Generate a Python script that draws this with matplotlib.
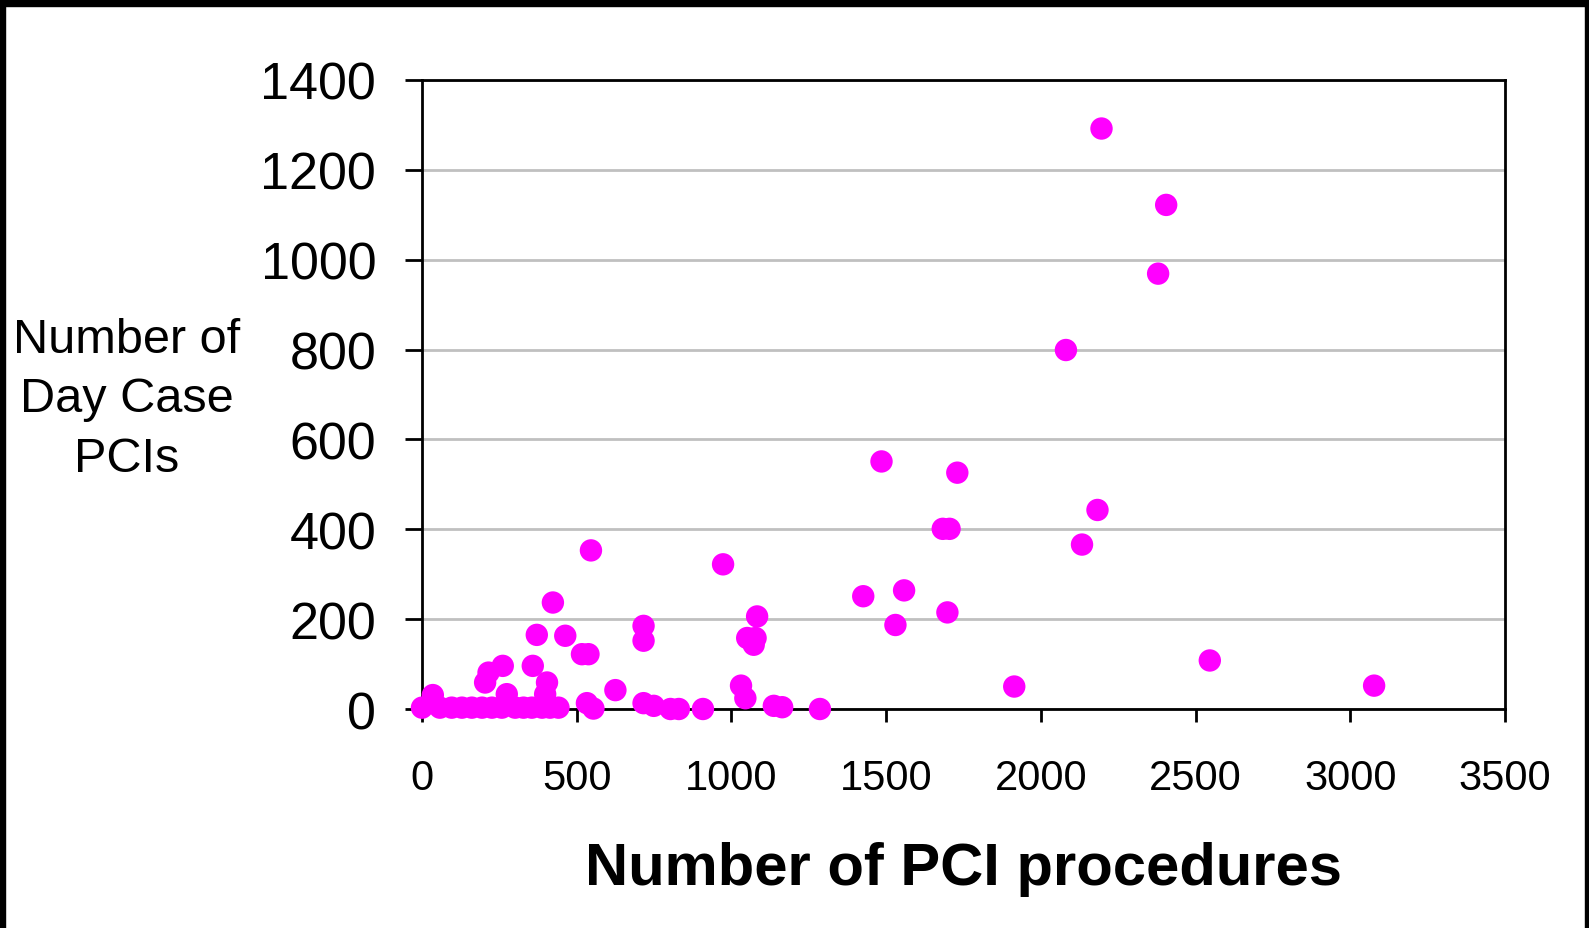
import matplotlib.pyplot as plt
from matplotlib.patches import Rectangle

plt.rcParams['font.family'] = ['Liberation Sans', 'DejaVu Sans']

# total PCI procedures per centre
pci_total = [2196, 2405, 2379, 2081, 1485, 1730, 2183, 2133, 2546, 3077,
             1426, 1530, 1558, 1698, 1683, 1705, 1914,
             973, 1083, 1051, 1078, 1072, 1031, 1045, 908, 1137, 1164, 1286,
             546, 423, 371, 463, 517, 538, 716, 716, 261, 215, 204, 358,
             404, 398, 274, 35, 625, 533, 554, 716, 749, 803, 830,
             0, 58, 96, 129, 161, 194, 226, 258, 301, 328, 355, 388, 414, 441]
# day case PCIs per centre
day_case = [1292, 1122, 969, 799, 551, 526, 443, 366, 108, 52,
            251, 187, 264, 215, 401, 401, 50,
            322, 206, 158, 158, 143, 52, 24, 0, 7, 4, 0,
            353, 237, 165, 163, 122, 122, 185, 152, 96, 81, 59, 96,
            59, 33, 33, 31, 42, 13, 1, 13, 7, 0, 0,
            3, 3, 3, 3, 3, 3, 3, 3, 3, 3, 3, 3, 3, 3]

x_ticks = [0, 500, 1000, 1500, 2000, 2500, 3000, 3500]
y_ticks = [0, 200, 400, 600, 800, 1000, 1200, 1400]

W, H = 1589, 929
fig = plt.figure(figsize=(W / 100, H / 100), dpi=100)
ax = fig.add_axes([422 / W, 1 - 710 / H, (1505 - 422) / W, (710 - 81) / H])

ax.scatter(pci_total, day_case, s=260, color='#ff00ff', edgecolors='none',
           zorder=3, clip_on=False)

ax.set_xlim(0, 3500)
ax.set_ylim(0, 1400)
ax.set_xticks(x_ticks)
ax.set_yticks(y_ticks)
ax.yaxis.grid(True, color='#c0c0c0', linewidth=2)
ax.set_axisbelow(True)

for s in ax.spines.values():
    s.set_linewidth(2)
    s.set_color('black')

ax.tick_params(axis='y', labelsize=37.5, length=12, width=2, pad=21)
ax.tick_params(axis='x', labelsize=30, length=9, width=2, pad=26)

ax.set_xlabel('Number of PCI procedures', fontsize=43, fontweight='bold',
              labelpad=31)
fig.text(127 / W, 1 - 400 / H, 'Number of\nDay Case\nPCIs', fontsize=35,
         ha='center', va='center', linespacing=1.42)

# black frame on top, left and right edges
fig.patches.append(Rectangle((0, 1 - 7 / H), 1, 7 / H, color='black',
                             transform=fig.transFigure, figure=fig))
fig.patches.append(Rectangle((0, 0), 5 / W, 1, color='black',
                             transform=fig.transFigure, figure=fig))
fig.patches.append(Rectangle((1 - 4 / W, 0), 4 / W, 1, color='black',
                             transform=fig.transFigure, figure=fig))

fig.savefig('out.png', dpi=100)
